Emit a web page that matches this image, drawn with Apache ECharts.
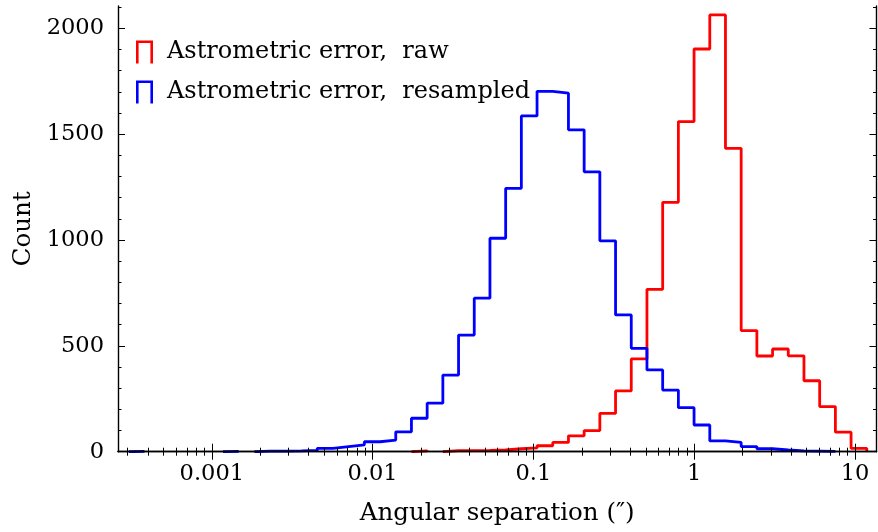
<!DOCTYPE html>
<html><head><meta charset="utf-8">
<script src="https://cdn.jsdelivr.net/npm/echarts@6/dist/echarts.min.js"></script>
<style>html,body{margin:0;padding:0;background:#fff}#c{width:878px;height:532px}</style>
</head><body><div id="c"></div>
<script>
// Histogram bin edges (arcsec), shared by both series
const binEdges = [3.048e-4, 3.816e-4, 4.777e-4, 5.979e-4, 7.488e-4, 9.380e-4, 1.1743e-3, 1.4706e-3, 1.8412e-3, 2.3055e-3,
  2.8866e-3, 3.6141e-3, 4.5256e-3, 5.6662e-3, 7.0958e-3, 8.8842e-3, 1.1122e-2, 1.3927e-2, 1.7437e-2, 2.1837e-2,
  2.7340e-2, 3.4231e-2, 4.2863e-2, 5.3667e-2, 6.7206e-2, 8.4140e-2, 0.10534, 0.13190, 0.16514, 0.20679,
  0.25891, 0.32418, 0.40596, 0.50826, 0.63651, 0.79693, 0.99770, 1.2497, 1.5643, 1.9588,
  2.4526, 3.0705, 3.8447, 4.8138, 6.0284, 7.5474, 9.4496, 11.833];
const rawCounts = [0, 0, 0, 0, 0, 0, 0, 0, 0, 0,
  0, 0, 0, 0, 0, 0, 0, 0, 4, 0,
  5, 5, 6, 8, 14, 18, 28, 44, 75, 100,
  181, 287, 438, 767, 1178, 1559, 1902, 2063, 1433, 572,
  452, 485, 453, 335, 213, 92, 16];
const resampledCounts = [2, 0, 0, 0, 0, 0, 2, 0, 3, 3,
  4, 6, 16, 24, 32, 47, 55, 94, 158, 229,
  362, 551, 725, 1008, 1244, 1586, 1702, 1693, 1520, 1322,
  996, 646, 488, 386, 291, 208, 126, 51, 44, 24,
  14, 8, 4, 3, 2, 0, 0];
const seriesNames = ['Astrometric error,\u00a0 raw', 'Astrometric error,\u00a0 resampled'];
const xMajorTicks = [0.001, 0.01, 0.1, 1, 10];
const xMinorTicks = [3e-4, 4e-4, 5e-4, 6e-4, 7e-4, 8e-4, 9e-4,
  2e-3, 3e-3, 4e-3, 5e-3, 6e-3, 7e-3, 8e-3, 9e-3,
  0.02, 0.03, 0.04, 0.05, 0.06, 0.07, 0.08, 0.09,
  0.2, 0.3, 0.4, 0.5, 0.6, 0.7, 0.8, 0.9,
  2, 3, 4, 5, 6, 7, 8, 9];
const yMajorTicks = [0, 500, 1000, 1500, 2000];
const yMinorTicks = [100, 200, 300, 400, 600, 700, 800, 900, 1100, 1200, 1300, 1400,
  1600, 1700, 1800, 1900, 2100];

// step outline; empty bins leave no horizontal segment on the baseline
function stepData(edges, counts) {
  const pts = [];
  let prev = 0;
  for (let i = 0; i < counts.length; i++) {
    const c = counts[i];
    if (c === 0) {
      if (prev !== 0) pts.push([edges[i], 0]);
      pts.push([edges[i], '-']);
    } else {
      if (prev === 0) pts.push([edges[i], 0]);
      pts.push([edges[i], c]);
      pts.push([edges[i + 1], c]);
    }
    prev = c;
  }
  if (prev !== 0) pts.push([edges[edges.length - 1], 0]);
  return pts;
}

const FONT = 'DejaVu Serif';
const FS = 22.5;
const FS_NAME = 24.5;
const FS_LEGEND = 24;
const XMIN = 2.61e-4, XMAX = 13.6, YMIN = 0, YMAX = 2105;
const black = '#000';

function xAx(pos, ticks, len, major, extra) {
  return Object.assign({
    type: 'log', logBase: 10, min: XMIN, max: XMAX, position: pos, gridIndex: 0, z: 5,
    axisLine: { show: major, lineStyle: { color: black, width: 1.4 } },
    axisTick: { show: true, inside: true, length: len, customValues: ticks, lineStyle: { color: black, width: 1 } },
    axisLabel: { show: false },
    splitLine: { show: false }, minorTick: { show: false }
  }, extra || {});
}
function yAx(pos, ticks, len, major, extra) {
  return Object.assign({
    type: 'value', min: YMIN, max: YMAX, position: pos, gridIndex: 0, z: 5,
    axisLine: { show: major, lineStyle: { color: black, width: 1.4 } },
    axisTick: { show: true, inside: true, length: len, customValues: ticks, lineStyle: { color: black, width: 1 } },
    axisLabel: { show: false },
    splitLine: { show: false }, minorTick: { show: false }
  }, extra || {});
}

const chart = echarts.init(document.getElementById('c'), null, { renderer: 'canvas' });
chart.setOption({
  animation: false,
  backgroundColor: '#fff',
  grid: { left: 118, right: 1.5, top: 6, bottom: 80.3, containLabel: false },
  legend: {
    orient: 'vertical', left: 136, top: 40, padding: 0,
    itemWidth: 17, itemHeight: 23, itemGap: 16,
    icon: 'path://M0,23 L0,0 L17,0 L17,23 L14.4,23 L14.4,2.6 L2.6,2.6 L2.6,23 Z',
    itemStyle: { borderWidth: 0 },
    textStyle: { fontFamily: FONT, fontSize: FS_LEGEND, color: black, padding: [0, 0, 0, 9] },
    data: seriesNames
  },
  xAxis: [
    xAx('bottom', xMajorTicks, 8, true, {
      axisLabel: { show: true, customValues: xMajorTicks, formatter: v => String(v), margin: 11,
        fontFamily: FONT, fontSize: FS, color: black },
      name: 'Angular separation (\u2033)', nameLocation: 'middle', nameGap: 49,
      nameTextStyle: { fontFamily: FONT, fontSize: FS_NAME, color: black }
    }),
    xAx('bottom', xMinorTicks, 4, false),
    xAx('top', xMajorTicks, 8, true),
    xAx('top', xMinorTicks, 4, false)
  ],
  yAxis: [
    yAx('left', yMajorTicks, 7, true, {
      axisLabel: { show: true, customValues: yMajorTicks, formatter: v => String(v), margin: 14,
        fontFamily: FONT, fontSize: FS, color: black },
      name: 'Count', nameLocation: 'middle', nameGap: 82, nameRotate: 90,
      nameTextStyle: { fontFamily: FONT, fontSize: FS_NAME, color: black }
    }),
    yAx('left', yMinorTicks, 3.5, false),
    yAx('right', yMajorTicks, 7, true),
    yAx('right', yMinorTicks, 3.5, false)
  ],
  series: [
    { name: seriesNames[0], type: 'line', xAxisIndex: 0, yAxisIndex: 0, showSymbol: false, symbol: 'none',
      connectNulls: false,
      data: stepData(binEdges, rawCounts), color: '#ff0000', itemStyle: { color: '#ff0000' },
      lineStyle: { color: '#ff0000', width: 2.8 }, clip: true, z: 2 },
    { name: seriesNames[1], type: 'line', xAxisIndex: 0, yAxisIndex: 0, showSymbol: false, symbol: 'none',
      connectNulls: false,
      data: stepData(binEdges, resampledCounts), color: '#0000ff', itemStyle: { color: '#0000ff' },
      lineStyle: { color: '#0000ff', width: 2.8 }, clip: true, z: 2 }
  ]
});
</script></body></html>
